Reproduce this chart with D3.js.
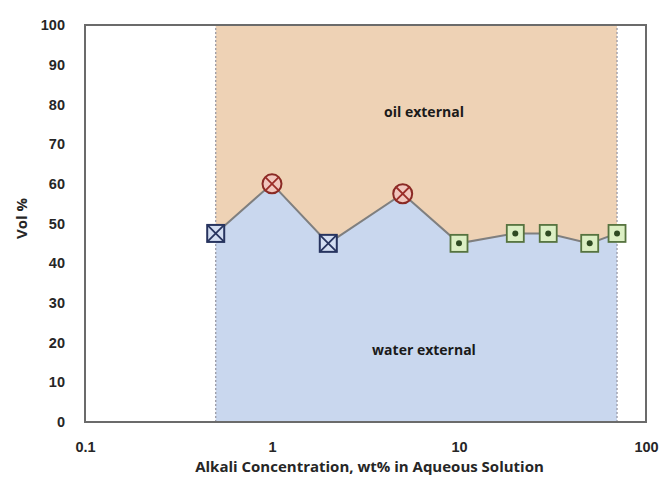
<!DOCTYPE html>
<html>
<head>
<meta charset="utf-8">
<script src="https://cdn.jsdelivr.net/npm/d3@7"></script>
<style>
  body { margin: 0; background: #fff; }
  svg { display: block; font-family: "Open Sans", "DejaVu Sans", sans-serif; }
  .tick-label { font-size: 14.5px; font-weight: 700; fill: #262626; }
  .axis-title { font-size: 15px; font-weight: 700; fill: #262626; }
  .region-label { font-size: 14px; font-weight: 700; fill: #1a1a1a; }
</style>
</head>
<body>
<div id="chart"></div>
<script>
// alkali concentration (wt%) and measured volume %
const concentrations = [0.5, 1, 2, 5, 10, 20, 30, 50, 70];
const volPct = [47.5, 60, 45, 57.5, 45, 47.5, 47.5, 45, 47.5];
// marker style for each point
const markerKind = ["boxX", "circleX", "boxX", "circleX", "boxDot", "boxDot", "boxDot", "boxDot", "boxDot"];

const xTicks = [0.1, 1, 10, 100];
const yTicks = d3.range(0, 101, 10);
const regionLabels = [
  { text: "oil external", x: 6.5, y: 78 },
  { text: "water external", x: 6.5, y: 18 }
];

const width = 662, height = 484;
const margin = { top: 25, right: 16, bottom: 62, left: 85 };

const svg = d3.select("#chart").append("svg")
  .attr("width", width).attr("height", height);

const x = d3.scaleLog().domain([0.1, 100]).range([margin.left, width - margin.right]);
const y = d3.scaleLinear().domain([0, 100]).range([height - margin.bottom, margin.top]);

const pts = concentrations.map((c, i) => ({ c, v: volPct[i], kind: markerKind[i] }));
const xMin = d3.min(concentrations), xMax = d3.max(concentrations);

// oil external (above line)
svg.append("path")
  .attr("fill", "#eed2b5")
  .attr("d", d3.area().x(d => x(d.c)).y0(y(100)).y1(d => y(d.v))(pts));

// water external (below line)
svg.append("path")
  .attr("fill", "#c9d7ee")
  .attr("d", d3.area().x(d => x(d.c)).y0(y(0)).y1(d => y(d.v))(pts));

// dotted boundaries
[xMin, xMax].forEach(c => {
  svg.append("line")
    .attr("x1", x(c)).attr("x2", x(c))
    .attr("y1", y(0)).attr("y2", y(100))
    .attr("stroke", "#9a9aa6").attr("stroke-width", 1.3)
    .attr("stroke-dasharray", "2,2");
});

// frame
svg.append("rect")
  .attr("x", margin.left).attr("y", margin.top)
  .attr("width", width - margin.left - margin.right)
  .attr("height", height - margin.top - margin.bottom)
  .attr("fill", "none").attr("stroke", "#6b6b6b").attr("stroke-width", 2);

// axes (labels only)
const xAxis = svg.append("g")
  .attr("transform", `translate(0,${height - margin.bottom})`)
  .call(d3.axisBottom(x).tickValues(xTicks).tickFormat(d => d).tickSize(0).tickPadding(20));
xAxis.select(".domain").remove();
xAxis.selectAll(".tick text").attr("class", "tick-label").attr("font-family", null).attr("font-size", null);

const yAxis = svg.append("g")
  .attr("transform", `translate(${margin.left},0)`)
  .call(d3.axisLeft(y).tickValues(yTicks).tickSize(0).tickPadding(20));
yAxis.select(".domain").remove();
yAxis.selectAll(".tick text").attr("class", "tick-label").attr("font-family", null).attr("font-size", null);

svg.append("text").attr("class", "axis-title")
  .attr("x", (margin.left + width - margin.right) / 2 + 4)
  .attr("y", height - 12)
  .attr("text-anchor", "middle")
  .text("Alkali Concentration, wt% in Aqueous Solution");

svg.append("text").attr("class", "axis-title")
  .attr("transform", `translate(27,${(margin.top + height - margin.bottom) / 2 - 5}) rotate(-90)`)
  .attr("text-anchor", "middle")
  .text("Vol %");

// region labels
svg.selectAll(".region-label").data(regionLabels).join("text")
  .attr("class", "region-label")
  .attr("x", d => x(d.x)).attr("y", d => y(d.y))
  .attr("text-anchor", "middle")
  .attr("dy", "0.35em")
  .text(d => d.text);

// line
svg.append("path")
  .attr("fill", "none").attr("stroke", "#7f7f7f").attr("stroke-width", 2)
  .attr("d", d3.line().x(d => x(d.c)).y(d => y(d.v))(pts));

// markers
const m = svg.selectAll(".marker").data(pts).join("g")
  .attr("class", "marker")
  .attr("transform", d => `translate(${x(d.c)},${y(d.v)})`);

m.filter(d => d.kind === "boxX").each(function () {
  const g = d3.select(this), s = 8.5;
  g.append("rect").attr("x", -s).attr("y", -s).attr("width", 2 * s).attr("height", 2 * s)
    .attr("fill", "#d3def2").attr("stroke", "#27345f").attr("stroke-width", 2);
  g.append("path").attr("d", `M${-s},${-s}L${s},${s}M${s},${-s}L${-s},${s}`)
    .attr("stroke", "#27345f").attr("stroke-width", 1.8);
});

m.filter(d => d.kind === "circleX").each(function () {
  const g = d3.select(this), r = 9.5, k = r * Math.SQRT1_2;
  g.append("circle").attr("r", r)
    .attr("fill", "#f1c6bd").attr("stroke", "#8a2a25").attr("stroke-width", 2);
  g.append("path").attr("d", `M${-k},${-k}L${k},${k}M${k},${-k}L${-k},${k}`)
    .attr("stroke", "#9b2d28").attr("stroke-width", 1.8);
});

m.filter(d => d.kind === "boxDot").each(function () {
  const g = d3.select(this), s = 8.5;
  g.append("rect").attr("x", -s).attr("y", -s).attr("width", 2 * s).attr("height", 2 * s)
    .attr("fill", "#dcefc4").attr("stroke", "#56733f").attr("stroke-width", 1.8);
  g.append("circle").attr("r", 3).attr("fill", "#2f4a22");
});
</script>
</body>
</html>
